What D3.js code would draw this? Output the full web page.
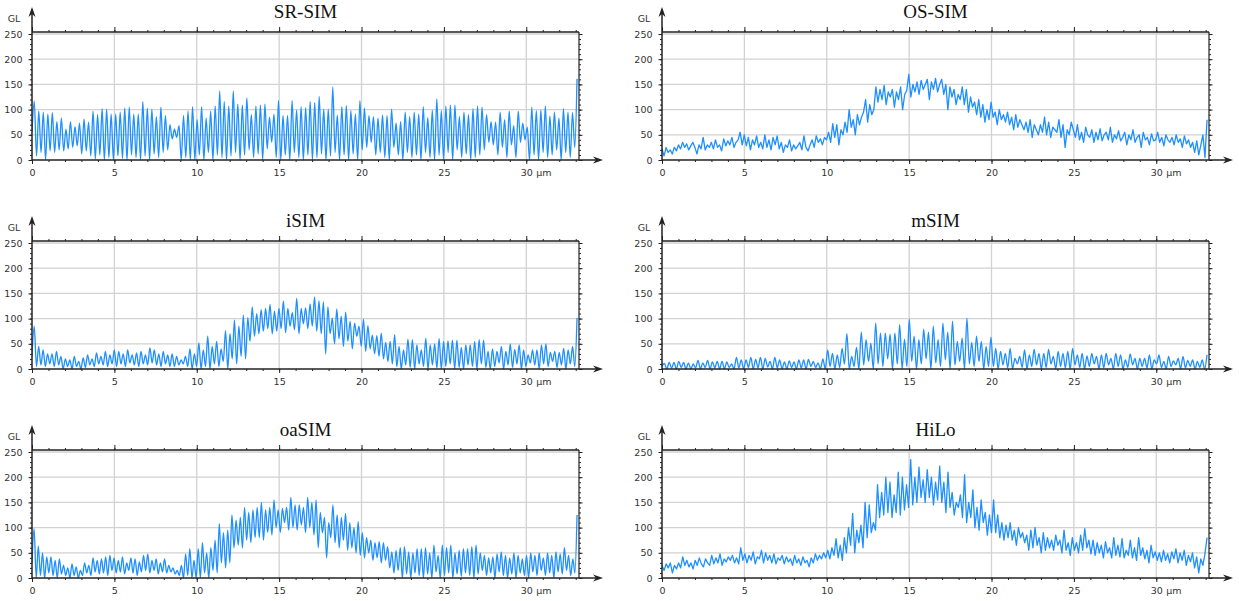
<!DOCTYPE html>
<html>
<head>
<meta charset="utf-8">
<script src="https://cdn.jsdelivr.net/npm/d3@7"></script>
<style>
body { margin: 0; background: #fff; }
</style>
</head>
<body>
<script>
var svgWidth = 1239;
var svgHeight = 601;

var titles = ["SR-SIM", "OS-SIM", "iSIM", "mSIM", "oaSIM", "HiLo"];
var xTicks = [0, 5, 10, 15, 20, 25, 30];
var yTicks = [0, 50, 100, 150, 200, 250];
var xMax = 33.2;
var dataMax = 33.08;

// oscillating profiles: troughs and peaks, read left to right
var srTroughs = [55,8,15,0,18,15,20,18,22,25,28,12,18,8,2,10,0,5, 0,8,3,0,10,5,0,8,0,12,5,15,20,42,45,0,5,0, 0,10,0,15,0,10,5,0,8,15,0,10,20,5,12,0,22,35,5, 0,10,0,15,5,0,10,0,5,12,0,8,15,0,10,0,12,0,20,25,35,10,15,5,0,25,10,0,15,5,10,0,15,5,0,10,0,15,0,20,5,12,0,5,10,20,35,30,10,25,5,30,5,35,40,0,10,0,15,5,10,20,0,15,5,25];
var srPeaks = [117,97,95,91,94,76,83,61,76,66,73,81,75,97,90,102,101,91, 91,95,103,105,91,91,116,103,101,86,105,88,70,61,68,88,97,106, 80,106,83,97,107,137,116,107,137,111,109,123,90,107,109,111,85,91,118, 88,88,118,99,106,104,116,114,126,101,101,145,89,106,108,98,91,118,103,88,86,83,89,88,101,73,76,95,86,95,91,106,84,99,121,98,107,109,109,86,95,90,102,107,105,90,76,75,95,80,97,68,97,73,65,105,98,99,107,87,95,83,102,95,94,161];

var iTroughs = [25,5,8,5, 10,5,8,0,5, 0,5,0,3,8,5, 10,8,5,10, 5,10,5,12,8,5,10,8,12,8,5,10,5,5,8, 10,5,0,5, 0,5,0,10, 5,15,0,20, 10,25,20, 55,65,70,75, 80,70,75,80, 72,85,78,70,
  90,80,85,75,70,30, 70,50,60,45,55,40,65, 45,35,40,30,25,20,15, 10,5,0,8,3,0,10,5,0,8,2,0,5,10,0,3,0,8,5,0,10,3,0,5,12,0,8,3,10,0,5,12,8,0,10,5,15,3,8,0,10,5];
var iPeaks = [85,45,38,30, 30,35,25,20,18, 25,15,22,28,20,32, 25,35,28,38, 35,30,38,28,32,35,28,42,38,30,35,28,30,25,18, 25,40,30,52, 38,65,45,55, 40,76,70,97, 85,107,102, 123,110,118,120, 128,115,120,135, 120,112,140,120,
  121,129,143,135,133,123,101,119,105,113,95,91,85,99,86,67,66,71,53,55,68,45,38,59,58,48,38,61,48,50,60,55,56,57,57,43,48,48,55,58,57,35,40,35,45,35,50,39,48,38,28,38,38,48,50,33,35,33,41,38,45,101];

var mTroughs = [5,0,2,0,3,0,0,2,0,3,0,2,0,0,3,0,2, 0,3,0,2,0,4,0,2,0,0,3,0,2,0,5,3,0, 0,5,0,3,10,0,5, 0,8,15,0,10,5,20,0,10,0, 5,15,0,10,20,0,12,5,18,0,8,15,0,10,5,15,0,5,
  5,0,8,2,0,10,3,0,5,8,0,3,10,0,5,2,0,8,3,0,5,10,0,2,8,0,5,0,3,8,0,5,2,0,10,3,0,5,8,0,2,5,0,3,0];
var mPeaks = [11,13,13,15,13,12,10,17,12,17,14,15,15,14,10,23,18, 18,23,19,23,21,15,23,18,14,16,14,18,18,19,15,12,20, 38,31,28,41,70,25,43, 73,58,51,91,71,71,69,71,88,59, 99,65,58,79,73,85,58,91,73,95,55,61,101,53,65,55,45,63,
  41,35,31,41,21,25,38,28,39,31,31,39,25,35,31,35,41,28,31,26,31,25,28,31,21,31,28,18,30,21,21,21,28,18,28,15,25,16,21,25,17,18,15,18,28];

var oaTroughs = [30,0,5,0, 10,5,0,8, 5,0,5,0, 5,10,5,12, 8,10,5,15, 10,12,8,15, 10,5,12,15, 10,15,8,12, 10,12,8,5, 0,5,0,0, 0,10,0, 15,10,30,20, 30,60,65,
  60,75,70,80, 80,75,90,85, 100,90,110,95, 100,95,105,90, 100,85,60,90, 40,80,70,60, 75,55,60,50, 45,40,50,35, 40,30,35,20, 10,15,0,8, 0,10,5,0,
  8,0,12,0, 5,10,0,8, 3,10,5,0, 8,15,5,10, 0,12,5,0, 8,0,10,5, 0,12,5,15, 5,10,0,12, 8,15,5,10];
var oaPeaks = [98,63,50,42, 42,35,38,25, 20,28,22,15, 30,25,40,35, 38,42,45,40, 35,42,30,40, 38,32,45,48, 35,38,30,38, 25,20,15,25, 48,58,35,58, 70,50,60, 75,108,90,95, 125,115,120,
  140,130,135,140, 150,135,140,155, 135,138,140,160, 145,145,140,160, 150,155,130,120, 110,145,125,120, 128,110,100,112, 90,80,75,70, 72,70,62,52, 55,60,62,52, 50,58,58,60,
  50,65,45,65, 60,65,50,55, 58,58,62,65, 50,45,40,42, 48,52,45,40, 50,45,38,45, 50,45,50,40, 50,45,52,48, 60,45,38,125];

// noisy profiles, about eight samples per micron
var osValues = [22,8,25,15,20,12,25,18, 30,22,35,25,32,20,28,35, 25,12,30,22,45,20,30,25, 35,22,40,25,30,18,42,28, 38,30,45,25,35,40,55,30,
  50,28,45,20,40,30,48,25, 35,22,50,25,40,20,45,30, 48,22,35,15,30,25,40,18, 30,22,28,35,20,48,25,18, 30,40,25,48,35,42,30,45,
  40,55,35,72,45,70,30,60, 50,75,55,100,65,80,50,90, 70,85,95,120,75,110,90,100, 145,115,140,120,148,110,135,125, 140,105,135,120,145,100,130,138,
  170,125,150,135,155,130,158,140, 150,160,120,155,140,162,135,150, 160,130,150,100,145,125,140,110, 130,120,145,110,140,95,125,105, 115,90,120,85,110,75,100,80,
  115,85,95,70,100,80,90,75, 95,70,85,60,90,65,80,70, 60,75,55,80,45,70,60,50, 70,55,85,50,75,45,65,60, 55,80,45,70,25,60,50,75,
  60,45,70,40,55,35,65,50, 45,60,35,55,40,62,38,50, 55,40,65,35,50,42,58,38, 45,55,30,50,40,60,35,45, 50,25,55,40,45,30,52,38,
  40,55,35,45,28,50,40,35, 45,30,50,35,42,25,48,32, 40,25,35,15,38,10,30,50, 5,80];

var hiloValues = [25,15,28,20,30,10,25,18, 30,20,42,25,35,22,30,18, 35,25,40,28,22,38,30,25, 45,28,40,30,48,25,38,32, 42,35,45,30,40,28,60,35,
  48,30,45,35,52,28,42,38, 55,30,50,35,45,30,48,28, 40,35,45,28,42,32,38,25, 45,30,38,25,42,30,35,22, 40,30,48,35,45,38,50,40,
  55,38,60,45,78,40,65,35, 80,50,100,65,128,50,95,70, 105,60,150,80,145,90,110,95, 185,120,170,125,200,130,190,120, 165,130,210,125,200,135,185,140,
  235,145,200,150,220,160,195,150, 215,160,200,145,190,155,222,150, 190,130,210,140,170,125,150,140, 165,120,205,110,150,120,175,100, 140,95,155,110,130,85,125,90,
  155,90,125,80,110,75,105,80, 110,75,95,65,100,80,90,70, 85,55,95,60,100,65,80,50, 90,55,80,60,75,55,85,65, 75,50,95,55,70,45,80,55,
  70,50,85,55,98,60,75,48, 75,45,70,50,65,40,72,50, 60,40,80,45,65,42,78,40, 55,45,75,40,60,35,80,45, 60,38,55,30,65,40,52,35,
  50,32,55,35,48,30,52,38, 58,30,50,35,55,25,45,32, 50,20,42,10,38,25,48,80];

function interleave(troughs, peaks) {
    var out = [];
    troughs.forEach(function(t, i) { out.push(t, peaks[i]); });
    return out;
}

var series = [
    { values: interleave(srTroughs, srPeaks), smooth: true },
    { values: osValues, smooth: false },
    { values: interleave(iTroughs, iPeaks), smooth: true },
    { values: interleave(mTroughs, mPeaks), smooth: true },
    { values: interleave(oaTroughs, oaPeaks), smooth: true },
    { values: hiloValues, smooth: false }
];

var svg = d3.select("body").append("svg").attr("width", svgWidth).attr("height", svgHeight);

var colLeft = [32, 662];
var rowStep = 209;
var plotWidth = 547;
var axisColor = "#222";
var gridColor = "#d2d2d2";
var lineColor = "#1e8fff";
var tickFont = "DejaVu Sans, Verdana, sans-serif";

titles.forEach(function(title, i) {
    var col = i % 2;
    var row = Math.floor(i / 2);
    var x0 = colLeft[col];

    var x = d3.scaleLinear().domain([0, xMax]).range([x0, x0 + plotWidth]);
    var y = d3.scaleLinear().domain([0, 250]).range([160, 34]);
    var yTop = y(254);
    var xRight = x(xMax);

    var g = svg.append("g").attr("transform", "translate(0," + (row * rowStep) + ")");

    // grid
    g.selectAll(".vgrid").data(xTicks.slice(1)).join("line")
        .attr("x1", function(d) { return x(d); })
        .attr("x2", function(d) { return x(d); })
        .attr("y1", y(0))
        .attr("y2", yTop)
        .attr("stroke", gridColor)
        .attr("stroke-width", 1.3);

    g.selectAll(".hgrid").data(yTicks.slice(1)).join("line")
        .attr("x1", x0)
        .attr("x2", xRight)
        .attr("y1", function(d) { return y(d); })
        .attr("y2", function(d) { return y(d); })
        .attr("stroke", gridColor)
        .attr("stroke-width", 1.3);

    // profile line
    var clipId = "clip" + i;
    g.append("clipPath").attr("id", clipId)
        .append("rect")
        .attr("x", x0).attr("y", yTop)
        .attr("width", plotWidth).attr("height", y(0) - yTop + 1);

    var vals = series[i].values;
    var step = dataMax / (vals.length - 1);
    var line = d3.line()
        .x(function(d, k) { return x(k * step); })
        .y(function(d) { return y(d); })
        .curve(series[i].smooth ? d3.curveMonotoneX : d3.curveLinear);

    g.append("path")
        .datum(vals)
        .attr("clip-path", "url(#" + clipId + ")")
        .attr("d", line)
        .attr("fill", "none")
        .attr("stroke", lineColor)
        .attr("stroke-width", 1.3)
        .attr("stroke-linejoin", "round");

    // frame top and right
    g.append("line")
        .attr("x1", x0).attr("x2", xRight)
        .attr("y1", yTop).attr("y2", yTop)
        .attr("stroke", axisColor).attr("stroke-width", 1.6);
    g.append("line")
        .attr("x1", xRight).attr("x2", xRight)
        .attr("y1", yTop).attr("y2", y(0))
        .attr("stroke", axisColor).attr("stroke-width", 1.2);

    // tick marks on all four sides
    var minorX = d3.range(0, 34);
    var minorY = d3.range(0, 251, 10);

    var axes = [
        { axis: d3.axisTop(x).tickValues(minorX).tickSize(2), t: [0, yTop] },
        { axis: d3.axisTop(x).tickValues(xTicks).tickSize(5), t: [0, yTop] },
        { axis: d3.axisRight(y).tickValues(minorY).tickSize(2), t: [xRight, 0] },
        { axis: d3.axisRight(y).tickValues(yTicks).tickSize(3.5), t: [xRight, 0] },
        { axis: d3.axisLeft(y).tickValues(minorY).tickSize(2), t: [x0, 0] },
        { axis: d3.axisBottom(x).tickValues(minorX).tickSize(2), t: [0, y(0)] }
    ];
    axes.forEach(function(a) {
        var ag = g.append("g")
            .attr("transform", "translate(" + a.t[0] + "," + a.t[1] + ")")
            .call(a.axis.tickFormat(""));
        ag.select(".domain").remove();
        ag.selectAll("line").attr("stroke", axisColor);
    });

    var yAxis = g.append("g")
        .attr("transform", "translate(" + x0 + ",0)")
        .call(d3.axisLeft(y).tickValues(yTicks).tickSize(3.5).tickPadding(6));
    yAxis.select(".domain").remove();

    var xAxis = g.append("g")
        .attr("transform", "translate(0," + y(0) + ")")
        .call(d3.axisBottom(x).tickValues(xTicks).tickSize(4).tickPadding(5));
    xAxis.select(".domain").remove();

    [yAxis, xAxis].forEach(function(ag) {
        ag.selectAll("line").attr("stroke", axisColor);
        ag.selectAll("text")
            .attr("fill", "#333")
            .style("font-family", tickFont)
            .style("font-size", "9.5px");
    });

    g.append("text")
        .attr("x", x(30) + 10)
        .attr("y", y(0) + 9)
        .attr("dy", "0.71em")
        .attr("fill", "#333")
        .style("font-family", tickFont)
        .style("font-size", "9.5px")
        .text("µm");

    // axis lines with arrows
    g.append("line")
        .attr("x1", x0).attr("x2", x0)
        .attr("y1", y(0)).attr("y2", 12)
        .attr("stroke", axisColor).attr("stroke-width", 1.5);
    g.append("path")
        .attr("d", "M" + x0 + ",7 L" + (x0 - 3.5) + ",17 L" + x0 + ",14 L" + (x0 + 3.5) + ",17 Z")
        .attr("fill", axisColor);

    var xEnd = x0 + 571;
    g.append("line")
        .attr("x1", x0).attr("x2", xEnd - 4)
        .attr("y1", y(0)).attr("y2", y(0))
        .attr("stroke", axisColor).attr("stroke-width", 1.5);
    g.append("path")
        .attr("d", "M" + xEnd + "," + y(0) + " L" + (xEnd - 10) + "," + (y(0) - 3.5) +
            " L" + (xEnd - 7) + "," + y(0) + " L" + (xEnd - 10) + "," + (y(0) + 3.5) + " Z")
        .attr("fill", axisColor);

    g.append("text")
        .attr("x", x0 - 18)
        .attr("y", 21.5)
        .attr("text-anchor", "middle")
        .attr("fill", "#333")
        .style("font-family", tickFont)
        .style("font-size", "9.5px")
        .text("GL");

    g.append("text")
        .attr("x", x0 + plotWidth / 2)
        .attr("y", 18)
        .attr("text-anchor", "middle")
        .attr("fill", "#111")
        .style("font-family", "Liberation Serif, Times New Roman, serif")
        .style("font-size", "19px")
        .text(title);
});
</script>
</body>
</html>
